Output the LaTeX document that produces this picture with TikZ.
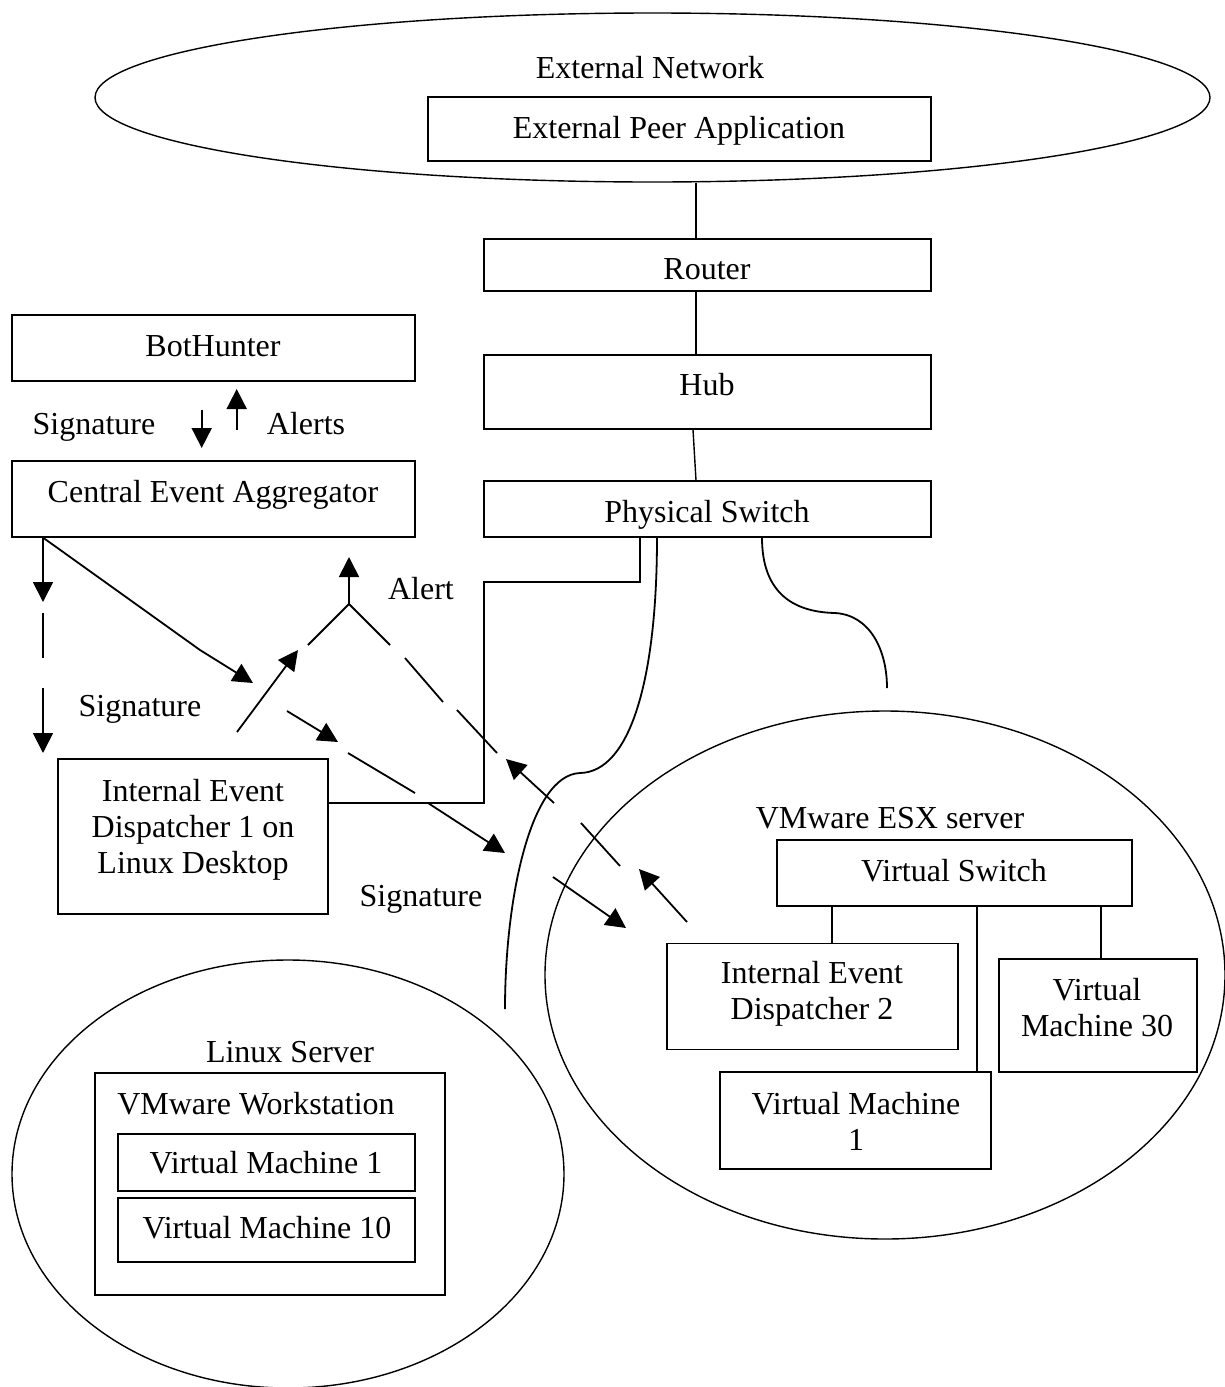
\documentclass[tikz,border=0pt]{standalone}
\usepackage{fontspec}
\setmainfont{Liberation Serif}
\usetikzlibrary{arrows.meta,shapes.geometric}
\begin{document}
\begin{tikzpicture}[x=1pt,y=-1pt,
  box/.style={draw, line width=1.2pt, inner sep=0pt, rectangle},
  thickbox/.style={draw, line width=2.4pt, inner sep=0pt, rectangle},
  txt/.style={inner sep=0pt, font=\fontsize{32}{36}\selectfont, text height=21.2pt, text depth=0pt},
  mtxt/.style={inner sep=0pt, font=\fontsize{32}{36}\selectfont, align=center},
  conn/.style={line width=1.4pt},
  arr/.style={line width=1.8pt, -{Triangle[length=20pt,width=20pt]}},
  seg/.style={line width=1.8pt},
  curv/.style={line width=1.8pt},
  oval/.style={draw, ellipse, line width=1.4pt, inner sep=0pt},
]
\useasboundingbox (0,0) rectangle (1225,1387);

% helper coordinates
\coordinate (cx696) at (696,0);
\coordinate (cx693) at (693,0);
\coordinate (cx640) at (640,0);
\coordinate (cx657) at (657,0);
\coordinate (cx762) at (762,0);
\coordinate (cx43) at (43,0);
\coordinate (cy803) at (0,803);
\coordinate (cx832) at (832,0);
\coordinate (cx977) at (977,0);
\coordinate (cx1101) at (1101,0);

% ellipses
\node[oval, minimum width=1115pt, minimum height=169pt] (extnet) at (652.5,97.5) {};
\node[oval, minimum width=680pt, minimum height=528pt] (esx) at (885,975) {};
\node[oval, minimum width=552pt, minimum height=428pt] (linux) at (288,1174) {};

\node[txt] (extnetT) at (650,68) {External Network};

% top chain
\node[box, minimum width=503pt, minimum height=64pt] (peer) at (679.5,129) {};
\node[txt] (peerT) at (679,128) {External Peer Application};
\node[box, minimum width=447pt, minimum height=52pt] (router) at (707.5,265) {};
\node[txt] (routerT) at (707,269) {Router};
\node[box, minimum width=447pt, minimum height=74pt] (hub) at (707.5,392) {};
\node[txt] (hubT) at (707,385) {Hub};
\node[box, minimum width=447pt, minimum height=56pt] (ps) at (707.5,509) {};
\node[txt] (psT) at (707,512) {Physical Switch};

\draw[conn] (extnet.south -| cx696) -- (router.north -| cx696);
\draw[conn] (router.south -| cx696) -- (hub.north -| cx696);
\draw[conn] (hub.south -| cx693) -- (ps.north -| cx696);

% left side
\node[box, minimum width=403pt, minimum height=66pt] (bh) at (213.5,348) {};
\node[txt] (bhT) at (213,346) {BotHunter};
\node[box, minimum width=403pt, minimum height=76pt] (cea) at (213.5,499) {};
\node[txt] (ceaT) at (213,492) {Central Event Aggregator};

\node[txt] (sig1) at (94,424) {Signature};
\node[txt] (alerts) at (306,424) {Alerts};
\coordinate (sdS) at (201.7,410);
\coordinate (sdE) at (201.7,448);
\coordinate (auS) at (236.7,430);
\coordinate (auE) at (236.7,389);
\draw[arr] (sdS) -- (sdE);
\draw[arr] (auS) -- (auE);

\node[box, minimum width=270pt, minimum height=155pt] (ied1) at (193,836.5) {};
\node[mtxt] (ied1T) at (193,829.6) {Internal Event\\Dispatcher 1 on\\Linux Desktop};

% signature arrows from CEA
\coordinate (vsig) at (43,753);
\draw[arr] (cea.south -| cx43) -- (43,602);
\draw[seg] (43,613) -- (43,658);
\draw[arr] (43,688) -- (vsig);
\node[txt] (sig2) at (140,706) {Signature};
\coordinate (dsigA) at (253,683);
\draw[arr] (cea.south -| cx43) -- (200,650) -- (dsigA);

% alert junction
\coordinate (junc) at (349,604);
\coordinate (alS) at (237,732);
\coordinate (alTop) at (349,557);
\draw[arr] (alS) -- (298,650);
\draw[seg] (308,645) -- (junc);
\draw[arr] (junc) -- (alTop);
\node[txt] (alertT) at (421,589) {Alert};
\draw[seg] (junc) -- (390,645);
\draw[seg] (405,658) -- (443,702);
\draw[seg] (457,710) -- (497,753);
\draw[arr] (554,803) -- (506,759);
\draw[seg] (581,823) -- (620,866);
\coordinate (ied2al) at (687,922);
\draw[arr] (ied2al) -- (639,869);

% lower signature dashed arrow
\draw[arr] (287,711) -- (338,742);
\draw[seg] (348,753) -- (415,793);
\draw[arr] (428,803) -- (505,853);
\coordinate (sigEnd) at (626,928);
\draw[arr] (553,877) -- (sigEnd);
\node[txt] (sig3) at (421,896) {Signature};

% step line from IED1 to physical switch
\draw[conn] (ied1.east |- cy803) -- (484,803) -- (484,582) -- (640,582) -- (ps.south -| cx640);

% curves from physical switch
\coordinate (c1end) at (505,1009);
\coordinate (c2end) at (887,688);
\draw[curv] (ps.south -| cx657) .. controls (657,680) and (630,772) .. (580,773)
   .. controls (530,775) and (505,900) .. (c1end);
\draw[curv] (ps.south -| cx762) .. controls (762,590) and (790,612) .. (835,613)
   .. controls (870,615) and (887,650) .. (c2end);

% ESX server
\node[txt] (esxT) at (890,818) {VMware ESX server};
\node[box, minimum width=355pt, minimum height=66pt] (vs) at (954.5,873) {};
\node[txt] (vsT) at (954,871) {Virtual Switch};
\node[box, minimum width=291pt, minimum height=106pt] (ied2) at (812.5,996.5) {};
\node[mtxt] (ied2T) at (812,994.1) {Internal Event\\Dispatcher 2};
\node[box, minimum width=198pt, minimum height=113pt] (vm30) at (1098,1015.5) {};
\node[mtxt] (vm30T) at (1097,1007.7) {Virtual\\Machine 30};
\node[box, minimum width=271pt, minimum height=97pt] (vm1e) at (855.5,1120.5) {};
\node[mtxt] (vm1eT) at (856,1121.6) {Virtual Machine\\1};
\draw[conn] (vs.south -| cx832) -- (ied2.north -| cx832);
\draw[line width=1.8pt] (vs.south -| cx977) -- (vm1e.north -| cx977);
\draw[conn] (vs.south -| cx1101) -- (vm30.north -| cx1101);

% Linux server
\node[txt] (linuxT) at (290,1052) {Linux Server};
\node[thickbox, minimum width=350pt, minimum height=222pt] (ws) at (270,1184) {};
\node[txt] (wsT) at (256,1104) {VMware Workstation};
\node[box, minimum width=297pt, minimum height=57pt] (vm1l) at (266.5,1162.5) {};
\node[txt] (vm1lT) at (266,1163) {Virtual Machine 1};
\node[box, minimum width=297pt, minimum height=64pt] (vm10) at (266.5,1230) {};
\node[txt] (vm10T) at (267,1228) {Virtual Machine 10};
\end{tikzpicture}
\end{document}
